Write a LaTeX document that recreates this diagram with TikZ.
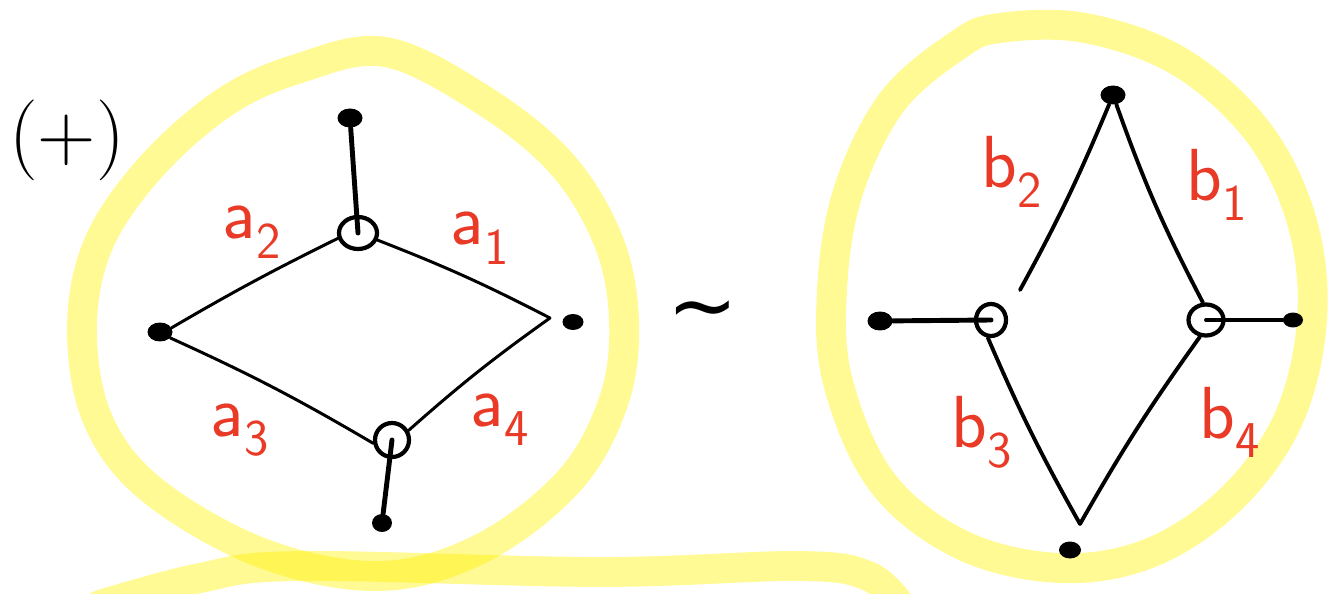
\documentclass[tikz,border=0pt]{standalone}
\usepackage{fontspec}
\usepackage{tikz}
\usetikzlibrary{shapes.geometric, positioning}
\newfontfamily\symfont{DejaVu Sans}
\definecolor{cRed}{RGB}{232,58,38}
\tikzset{
	hilite/.style={draw=yellow, opacity=0.42, line width=17pt, line cap=round, line join=round},
	dot/.style   ={ellipse, fill=black, minimum width=0.5cm, minimum height=0.38cm, inner sep=0pt},
	vtx/.style   ={ellipse, draw=black, line width=2.4pt, minimum width=0.76cm, minimum height=0.64cm, inner sep=0pt},
	edge/.style  ={line width=1.7pt, line cap=round},
	stem/.style  ={line width=2.8pt, line cap=round},
	lbl/.style   ={text=cRed, font=\sffamily\fontsize{42}{46}\selectfont, inner sep=0pt},
}
\begin{document}
\begin{tikzpicture}[x=0.02cm, y=-0.02cm]
	\useasboundingbox (0,0) rectangle (1338,594);
	\clip (0,0) rectangle (1338,594);
	% highlighter loops
	\draw[hilite] plot[smooth cycle, tension=0.6] coordinates {(385,52) (300,68) (225,102) (150,168) (98,245) (82,330) (98,420) (152,490) (262,553) (380,576) (482,548) (570,480) (614,400) (624,320) (608,240) (560,162) (480,98)};
	\draw[hilite] plot[smooth cycle, tension=0.6] coordinates {(1000,28) (1085,28) (1180,62) (1258,132) (1302,222) (1312,320) (1288,420) (1230,500) (1150,553) (1060,568) (962,545) (882,482) (838,382) (832,290) (848,192) (892,102) (958,45)};
	\draw[hilite] plot[smooth, tension=0.6] coordinates {(100,605) (200,578) (300,566) (600,572) (800,566) (868,576) (900,605)};
	% marker and relation
	\node[font=\fontsize{46}{50}\selectfont] (mark) at (67,140) {(+)};
	\node[font=\symfont\fontsize{48}{52}\selectfont] (rel) at (703,318) {∼};
	% left graph
	\node[dot] (ta) at (350,118) {};
	\node[vtx] (ca) at (358,233) {};
	\node[dot] (la) at (160,332) {};
	\node[dot, minimum width=0.42cm, minimum height=0.32cm] (ra) at (573,322) {};
	\node[vtx, minimum width=0.68cm, minimum height=0.68cm] (da) at (392,440) {};
	\node[dot, minimum width=0.4cm, minimum height=0.36cm] (ba) at (382,523) {};
	\coordinate (ea) at (550,318);
	\draw[stem] (ta) -- (ca.center);
	\draw[edge] (ca.195) to[bend right=2] (la.20);
	\draw[edge] (ca.-20) to[bend left=3] (ea);
	\draw[edge] (ea) to[bend right=3] (da.30);
	\draw[edge] (la.-30) to[bend left=3] (da.190);
	\draw[stem] (da.center) -- (ba);
	\node[lbl] (a2) at (252,232) {a\textsubscript{2}};
	\node[lbl] (a1) at (480,238) {a\textsubscript{1}};
	\node[lbl] (a3) at (240,430) {a\textsubscript{3}};
	\node[lbl] (a4) at (500,420) {a\textsubscript{4}};
	% right graph
	\node[dot] (tb) at (1113,95) {};
	\node[vtx, minimum width=0.6cm, minimum height=0.64cm] (cb) at (991,320) {};
	\node[vtx, minimum width=0.7cm, minimum height=0.62cm] (rb) at (1206,320) {};
	\node[dot] (lb) at (880,321) {};
	\node[dot, minimum width=0.4cm, minimum height=0.3cm] (sb) at (1293,320) {};
	\node[dot, minimum width=0.44cm, minimum height=0.34cm] (bb) at (1070,550) {};
	\coordinate (gb) at (1020,290);
	\coordinate (jb) at (1080,524);
	\draw[edge, line width=2.2pt] (tb) to[bend left=3] (gb);
	\draw[edge, line width=2.2pt] (tb) to[bend right=4] (rb.100);
	\draw[stem] (lb) -- (cb.center);
	\draw[edge, line width=2.2pt] (cb.-100) to[bend right=3] (jb);
	\draw[edge, line width=2.2pt] (rb.-110) to[bend right=3] (jb);
	\draw[edge, line width=2.2pt] (rb.center) -- (sb.west);
	\node[lbl] (b2) at (1012,172) {b\textsubscript{2}};
	\node[lbl] (b1) at (1217,185) {b\textsubscript{1}};
	\node[lbl] (b3) at (982,432) {b\textsubscript{3}};
	\node[lbl] (b4) at (1230,422) {b\textsubscript{4}};
\end{tikzpicture}
\end{document}
